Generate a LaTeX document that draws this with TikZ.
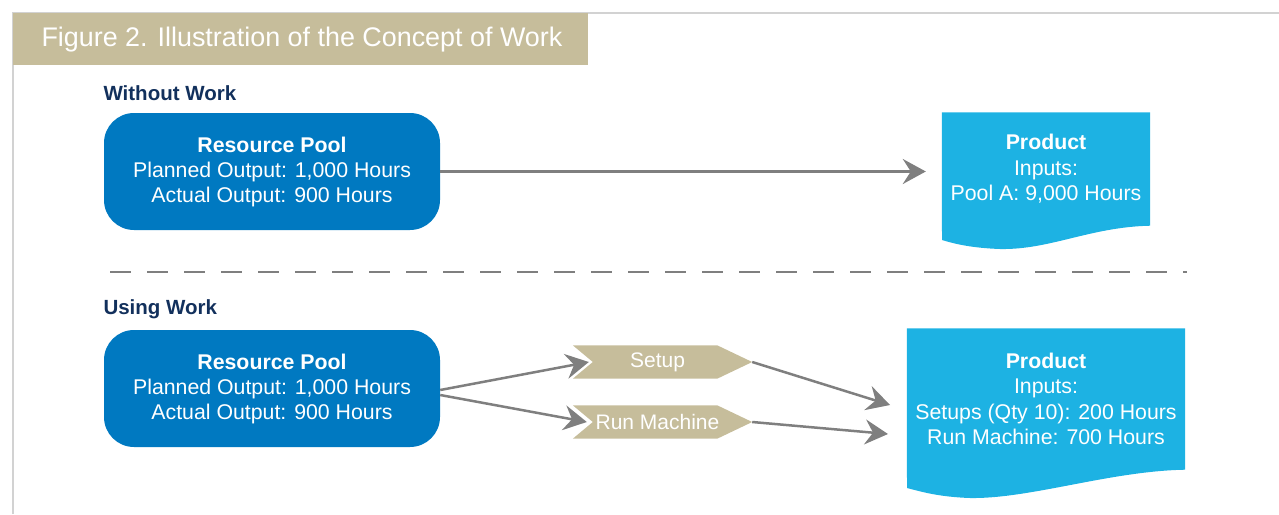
\documentclass[tikz,border=0pt]{standalone}
\usepackage{fontspec}
\setmainfont{Liberation Sans}
\usetikzlibrary{arrows.meta, positioning, backgrounds}
\definecolor{figtan}{HTML}{C6BD9B}
\definecolor{pooldark}{HTML}{0079C1}
\definecolor{prodblue}{HTML}{1DB2E3}
\definecolor{headnavy}{HTML}{12305C}
\definecolor{arrowgray}{HTML}{7F7F7F}
\definecolor{framegray}{HTML}{D2D2D2}

\tikzset{
  pool/.style={fill=pooldark, rounded corners=30pt, minimum width=336pt, minimum height=117pt,
    text=white, align=center, font=\fontsize{21.3}{25}\selectfont},
  prod/.style={inner sep=0pt, text=white, align=center, font=\fontsize{21.3}{25.5}\selectfont},
  stepflag/.style={inner sep=0pt, minimum width=179pt, minimum height=33pt, text=white,
    font=\fontsize{21}{24}\selectfont},
  sectionhead/.style={anchor=west, text=headnavy, font=\fontsize{20.5}{22}\selectfont\bfseries},
  flow/.style={draw=arrowgray, line width=2.5pt,
    -{Stealth[length=23pt, width=25pt, inset=8pt]}}
}

\begin{document}
\begin{tikzpicture}[x=1pt, y=-1pt]
    \useasboundingbox (0,0) rectangle (1279,514);
    % frame and title bar
    \draw[framegray, line width=2pt] (13,514) -- (13,13) -- (1279,13);
    \fill[figtan] (13,13) rectangle (588,65);
    \node[anchor=west, text=white, font=\fontsize{26.9}{30}\selectfont] (title) at (38,40)
        {Figure 2. Illustration of the Concept of Work};

    % without work
    \node[sectionhead] (headA) at (100,93) {Without Work};
    \node[pool] (poolA) at (272,171.5) {\textbf{Resource Pool}\\Planned Output: 1,000 Hours\\Actual Output: 900 Hours};
    \node[prod, minimum width=208pt, minimum height=113pt] (prodA) at (1046,169)
        {\textbf{Product}\\Inputs:\\Pool A: 9,000 Hours};
    \begin{scope}[on background layer]
        \fill[prodblue] (prodA.north west) -- (prodA.north east) -- (prodA.south east)
            .. controls (1090,227) and (1050,250) .. (1000,249)
            .. controls (972,248) and (955,244) .. (942,240) -- cycle;
    \end{scope}
    \draw[flow] (poolA.east) -- ([xshift=-16pt]prodA.west |- poolA.east);

    % separator
    \draw[arrowgray, line width=2.5pt, dash pattern=on 21pt off 16pt] (110,272) -- (1187,272);

    % using work
    \node[sectionhead] (headB) at (100,309) {Using Work};
    \node[pool] (poolB) at (272,388.5) {\textbf{Resource Pool}\\Planned Output: 1,000 Hours\\Actual Output: 900 Hours};
    \node[stepflag] (setup) at (662.5,362) {\hspace*{-10pt}Setup};
    \node[stepflag] (runm) at (662.5,422) {\hspace*{-10pt}Run Machine};
    \node[prod, minimum width=278pt, minimum height=141pt] (prodB) at (1046,399)
        {\textbf{Product}\\Inputs:\\Setups (Qty 10): 200 Hours\\Run Machine: 700 Hours};
    \begin{scope}[on background layer]
        \foreach \s in {setup, runm}
            \fill[figtan] (\s.north west) -- ([xshift=-35pt]\s.north east) -- (\s.east)
                -- ([xshift=-35pt]\s.south east) -- (\s.south west) -- ([xshift=20pt]\s.west) -- cycle;
        \fill[prodblue] (prodB.north west) -- (prodB.north east) -- (prodB.south east)
            .. controls (1110,471) and (1030,499) .. (970,498)
            .. controls (940,497) and (922,492) .. (907,488) -- cycle;
    \end{scope}
    \draw[flow] ([yshift=-1.5pt]poolB.east) -- ([xshift=16pt]setup.west);
    \draw[flow] ([yshift=-6.5pt]poolB.east) -- ([xshift=14pt]runm.west);
    \draw[flow] (setup.east) -- (890,405);
    \draw[flow] (runm.east) -- (888,434);
\end{tikzpicture}
\end{document}
